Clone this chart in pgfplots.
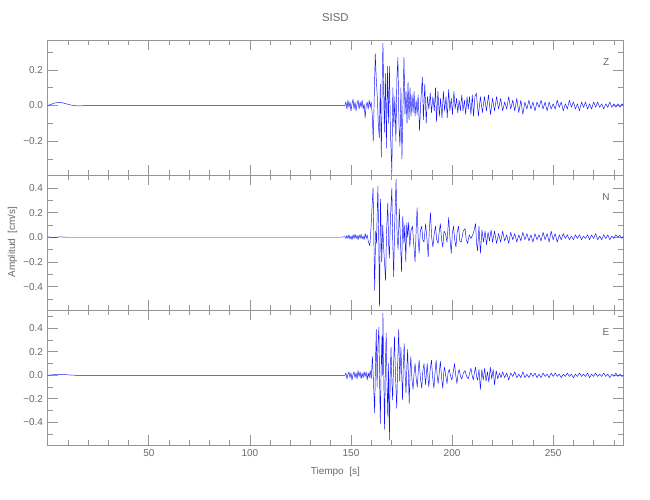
\documentclass[border=0pt]{standalone}
\usepackage{fontspec}
\setmainfont{Liberation Sans}
\usepackage{pgfplots}
\pgfplotsset{compat=1.18}
\definecolor{axgray}{RGB}{150,150,150}
\definecolor{txtgray}{RGB}{105,105,105}
\definecolor{trace}{RGB}{20,20,255}
\pgfplotsset{
  panel/.style={
    scale only axis, width=431.7pt, height=101.25pt, anchor=south west,
    xmin=0, xmax=284.7, clip=true,
    axis line style={draw=axgray, line width=0.5pt},
    every tick/.style={draw=axgray, line width=0.5pt},
    major tick length=7.5pt, minor tick length=3.75pt,
    tick align=inside,
    xtick={50,100,150,200,250},
    minor xtick={10,20,30,40,60,70,80,90,110,120,130,140,160,170,180,190,210,220,230,240,260,270,280},
    tick label style={font=\fontsize{7.5}{9}\selectfont, text=txtgray},
    /pgf/number format/assume math mode=true,
  },
  sig/.style={draw=trace, line width=0.35pt, line join=round, mark=none},
}
\begin{document}
\begin{tikzpicture}
\useasboundingbox (0,0) rectangle (487.5pt,375pt);
% ---------------- Z ----------------
\begin{axis}[panel, at={(35.8pt,243.75pt)}, ymin=-0.39, ymax=0.368,
  ytick={-0.2,0,0.2}, yticklabels={−0.2,0.0,0.2},
  minor ytick={-0.3,-0.1,0.1,0.3}, xticklabels={}]
\addplot[sig] coordinates {
(0,0.0)(1.5,0.006)(3,0.013)(5,0.017)(7,0.016)(9,0.010)(11,0.004)(13,0.0)(15,-0.002)(20,0.0)(145,0.0)
(147,0.0)(147.5,0.02)(148,-0.02)(148.5,0.03)(149,-0.01)(149.5,0.02)(150,-0.03)(150.5,0.01)
(151,0.035)(151.5,-0.02)(152,0.02)(152.5,-0.03)(153,0.01)(153.5,0.03)(154,-0.02)(154.5,0.02)
(155,-0.01)(155.5,0.03)(156,-0.02)(156.5,0.01)(157,-0.07)(157.5,0.0)(158,0.02)(158.5,-0.02)
(159,0.03)(159.5,-0.01)(160,0.02)(160.5,-0.05)(161,-0.20)(161.5,0.05)(162,0.29)(162.5,0.15)
(163,0.05)(163.5,-0.10)(164,-0.18)(164.5,0.12)(165,-0.29)(165.5,0.20)(165.8,0.35)(166.2,0.05)
(166.5,-0.15)(167,0.18)(167.5,-0.24)(168,0.22)(168.5,-0.10)(169,0.22)(169.5,-0.15)(170.2,-0.37)
(170.7,0.10)(171.2,-0.12)(171.7,0.05)(172.2,-0.20)(172.7,0.15)(173.2,0.27)(173.7,-0.10)
(174.2,-0.23)(174.7,0.10)(175.2,-0.30)(175.8,0.05)(176.2,0.27)(176.7,-0.05)(177.2,0.08)
(177.7,-0.10)(178.2,0.13)(178.7,-0.08)(179.2,0.10)(179.7,-0.06)(180.2,0.06)(180.7,-0.04)
(181.2,0.08)(181.7,-0.06)(182.2,0.03)(182.7,-0.05)(183.2,0.06)(183.9,-0.14)(184.5,0.02)
(185.3,0.16)(185.8,-0.08)(186.5,0.12)(187.2,-0.10)(187.8,0.05)(188.5,-0.02)(189.2,0.07)
(189.8,-0.04)(190.5,0.05)(191.2,-0.03)(191.8,0.10)(192.3,-0.09)(193,0.08)(193.7,-0.06)
(194.3,0.04)(195,-0.07)(195.7,0.08)(196.3,-0.03)(197,0.05)(197.6,-0.07)(198.3,0.09)
(198.9,-0.03)(199.6,0.04)(200.2,-0.05)(200.9,0.08)(201.5,-0.02)(202.2,0.04)(202.8,-0.04)
(203.5,0.03)(204.1,-0.03)(204.8,0.06)(205.4,-0.03)(206.1,0.03)(206.7,-0.05)(207.4,0.05)
(208,-0.02)(208.6,0.05)(209.3,-0.05)(210,0.06)(210.6,-0.06)(211.3,0.05)
(212,0.07)(213,-0.06)(214,0.05)(215,-0.04)(216,0.05)(217,-0.03)(218,0.06)(219,-0.05)(220,0.04)
(221,-0.03)(222,0.05)(223,-0.02)(224,0.04)(225,-0.03)(226,0.02)(227,-0.02)(228,0.05)(229,-0.02)
(230,0.03)(231,-0.03)(232,0.04)(233,-0.04)(234,0.03)(235,-0.05)(236,0.02)(237,-0.02)(238,0.03)
(239,-0.02)(240,0.02)(241,-0.03)(242,0.02)(243,-0.01)(244,0.03)(245,-0.02)(246,0.02)(247,-0.03)
(248,0.02)(249,-0.02)(250,0.01)(251,-0.02)(252,0.03)(253,-0.01)(254,0.02)(255,-0.03)(256,0.01)
(257,-0.02)(258,0.03)(259,-0.01)(260,0.02)(261,-0.02)(262,0.01)(263,-0.03)(264,0.02)(265,-0.01)
(266,0.02)(267,-0.02)(268,0.01)(269,-0.02)(270,0.02)(271,-0.01)(272,0.02)(273,-0.01)(274,0.01)
(275,-0.02)(276,0.01)(277,-0.01)(278,0.02)(279,-0.01)(280,0.01)(281,-0.01)(282,0.01)(283,-0.01)
(284,0.01)(284.7,0.0)
};
\node[text=txtgray, font=\fontsize{7.5}{9}\selectfont] at (rel axis cs:0.970,0.837) {Z};
\end{axis}
% ---------------- N ----------------
\begin{axis}[panel, at={(35.8pt,142.5pt)}, ymin=-0.59, ymax=0.505,
  ytick={-0.4,-0.2,0,0.2,0.4}, yticklabels={−0.4,−0.2,0.0,0.2,0.4},
  minor ytick={-0.5,-0.3,-0.1,0.1,0.3,0.5}, xticklabels={}]
\addplot[sig] coordinates {
(0,0.003)(3,-0.002)(6,0.003)(10,0.0)(145,0.0)
(147,0.005)(147.5,-0.01)(148,0.015)(148.5,-0.01)(149,0.02)(149.5,-0.015)(150,0.01)(150.5,-0.02)
(151,0.02)(151.5,-0.01)(152,0.025)(152.5,-0.01)(153,0.015)(153.5,-0.02)(154,0.02)(154.5,-0.01)
(155,0.025)(155.5,-0.015)(156,0.01)(156.5,-0.02)(157,0.03)(157.5,-0.01)(158,0.02)(158.5,-0.03)
(159.3,-0.07)(159.8,0.05)(160.9,0.40)(161.3,0.0)(161.7,-0.43)(162.2,0.05)(162.6,-0.05)
(163.3,0.415)(163.7,0.0)(164.1,-0.56)(164.6,0.31)(165.2,-0.20)(165.7,0.10)(166.2,-0.10)
(167.1,-0.35)(167.6,0.05)(168.2,0.28)(168.6,-0.05)(169.0,-0.17)(169.5,0.15)(170.2,0.40)
(170.6,0.0)(171.1,-0.32)(171.6,0.10)(172.3,0.47)(172.8,0.01)(173.3,-0.10)(173.9,0.23)
(174.4,0.0)(175.0,-0.28)(175.6,0.17)(176.2,-0.05)(176.6,0.10)(177.1,-0.20)(177.6,0.12)
(178.0,0.0)(178.5,0.12)(179.1,-0.08)(179.6,0.05)(180.4,0.09)(181.0,-0.05)(181.7,-0.20)
(182.2,0.05)(182.7,0.24)(183.2,0.0)(183.7,-0.13)(184.3,0.05)(185.0,0.09)(185.5,-0.02)
(186.1,-0.04)(186.9,0.11)(187.5,0.0)(188.2,-0.16)(188.7,0.05)(189.3,0.20)(189.9,0.0)
(190.5,-0.08)(191.1,0.02)(191.8,0.09)(192.4,-0.02)(193.1,-0.05)(193.6,0.04)(194.2,0.11)
(194.8,-0.02)(195.4,-0.08)(196.0,0.05)(196.7,0.03)(197.5,-0.04)(198.3,0.16)(198.9,0.0)
(199.6,-0.13)(200.1,0.03)(200.7,0.09)(201.3,-0.02)(201.9,-0.08)(202.5,0.04)(203.2,0.09)
(203.8,-0.03)(204.5,-0.04)(205.5,0.05)(206.4,0.07)(207.0,-0.02)(207.7,-0.05)(208.5,0.02)
(209.3,-0.01)(210.5,0.03)(211.6,0.11)(212.1,-0.05)(212.6,-0.11)
(213.3,0.09)(214,-0.13)(214.8,0.06)(215.5,-0.04)(216.3,0.05)(217,-0.06)(217.8,0.04)(218.5,-0.03)
(219.3,0.06)(220,-0.04)(221,0.05)(222,-0.05)(223,0.03)(224,-0.04)(225,0.05)(226,-0.03)(227,0.02)
(228,-0.05)(229,0.04)(230,-0.02)(231,0.03)(232,-0.04)(233,0.02)(234,-0.03)(235,0.04)(236,-0.02)
(237,0.03)(238,-0.03)(239,0.02)(240,-0.04)(241,0.03)(242,-0.02)(243,0.02)(244,-0.03)(245,0.04)
(246,-0.02)(247,0.03)(248,-0.04)(249,0.05)(250,-0.02)(251,0.03)(252,-0.04)(253,0.02)(254,-0.02)
(255,0.03)(256,-0.01)(257,0.02)(258,-0.02)(259,0.01)(260,-0.02)(261,0.02)(262,-0.01)(263,0.02)
(264,-0.02)(265,0.01)(266,-0.01)(267,0.02)(268,-0.02)(269,0.02)(270,-0.01)(271,0.03)(272,-0.02)
(273,0.01)(274,-0.02)(275,0.02)(276,-0.01)(277,0.02)(278,-0.02)(279,0.01)(280,-0.01)(281,0.02)
(282,0.0)(283,0.015)(284,-0.01)(284.7,0.01)
};
\node[text=txtgray, font=\fontsize{7.5}{9}\selectfont] at (rel axis cs:0.970,0.837) {N};
\end{axis}
% ---------------- E ----------------
\begin{axis}[panel, at={(35.8pt,41.25pt)}, ymin=-0.593, ymax=0.556,
  ytick={-0.4,-0.2,0,0.2,0.4}, yticklabels={−0.4,−0.2,0.0,0.2,0.4},
  minor ytick={-0.5,-0.3,-0.1,0.1,0.3,0.5}]
\addplot[sig] coordinates {
(0,0.0)(2,0.004)(4,0.007)(7,0.008)(10,0.004)(14,0.0)(145,0.0)
(147,0.0)(147.5,0.02)(148,-0.03)(148.5,0.01)(149,0.03)(149.5,-0.02)(150,0.02)(150.5,-0.04)
(151,0.01)(151.5,0.03)(152,-0.02)(152.5,0.02)(153,-0.03)(153.5,0.04)(154,-0.01)(154.5,0.03)
(155,-0.03)(155.5,0.02)(156,-0.02)(156.5,0.03)(157,-0.01)(157.5,0.03)(158,-0.04)(158.5,0.02)
(159,-0.02)(159.5,0.04)(160,-0.03)(160.6,0.16)(161.1,-0.05)(161.7,-0.32)(162.1,0.10)(162.5,0.39)
(162.9,-0.10)(163.3,0.25)(163.8,0.41)(164.1,0.0)(164.5,-0.41)(164.9,0.05)(165.3,0.33)(165.5,0.0)
(165.8,0.53)(166.2,0.0)(166.6,-0.46)(167.0,0.05)(167.4,0.36)(167.8,-0.05)(168.2,-0.35)(168.6,0.10)
(169.0,-0.55)(169.4,0.0)(169.8,0.24)(170.2,-0.05)(170.6,-0.21)(171.0,0.05)(171.5,0.33)(172.0,0.0)
(172.6,-0.28)(173.1,0.10)(173.6,0.39)(174.1,-0.05)(174.7,0.24)(175.1,0.0)(175.5,-0.21)(175.9,0.10)
(176.3,0.27)(176.8,0.0)(177.2,-0.15)(177.6,0.05)(178.0,0.22)(178.4,0.0)(178.8,-0.24)(179.2,0.03)
(179.6,0.16)(180.1,-0.03)(180.7,-0.12)(181.2,0.02)(181.7,0.10)(182.2,-0.02)(182.8,-0.10)(183.2,0.02)
(183.7,0.13)(184.3,-0.02)(185.0,-0.11)(185.5,0.03)(186.1,0.10)(186.5,0.0)(186.9,-0.08)(187.3,0.02)
(187.7,0.10)(188.1,-0.02)(188.5,-0.10)(189.1,0.04)(189.8,0.13)(190.4,-0.02)(191.0,-0.11)(191.6,0.03)
(192.1,0.13)(192.6,0.0)(193.1,-0.07)(193.7,0.03)(194.2,0.12)(194.8,-0.02)(195.4,-0.11)(195.9,0.03)
(196.3,0.07)(196.9,-0.01)(197.5,-0.07)(198.0,0.02)(198.6,0.05)(199.3,-0.01)(199.9,-0.04)(200.6,0.03)
(201.2,0.10)(201.8,0.0)(202.4,-0.07)(203.0,0.02)(203.5,0.05)(204.2,-0.01)(204.8,-0.03)(205.6,0.02)
(206.4,0.04)(207.2,-0.01)(208.0,-0.03)(208.7,0.02)(209.3,0.06)(209.9,0.0)(210.5,-0.04)(211.0,0.02)
(211.6,0.07)(212.1,-0.01)(212.6,-0.04)
(213.3,0.05)(214,-0.12)(214.7,0.05)(215.4,-0.04)(216.1,0.06)(216.8,-0.05)(217.5,0.03)(218.2,-0.06)
(218.9,0.07)(219.6,-0.03)(220.3,0.05)(221,-0.08)(221.8,0.04)(222.6,-0.03)(223.4,0.02)(224.2,-0.02)
(225,0.03)(226,-0.02)(227,0.02)(228,-0.04)(229,0.02)(230,-0.01)(231,0.03)(232,-0.02)(233,0.01)
(234,-0.02)(235,0.03)(236,-0.02)(237,0.01)(238,-0.02)(239,0.02)(240,-0.01)(241,0.02)(242,-0.02)
(243,0.01)(244,-0.02)(245,0.02)(246,-0.01)(247,0.01)(248,-0.02)(249,0.02)(250,-0.01)(251,0.02)
(252,-0.01)(253,0.01)(254,-0.02)(255,0.01)(256,-0.01)(257,0.02)(258,-0.01)(259,0.01)(260,-0.02)
(261,0.01)(262,-0.01)(263,0.02)(264,-0.01)(265,0.01)(266,-0.01)(267,0.02)(268,-0.02)(269,0.01)
(270,-0.01)(271,0.02)(272,-0.01)(273,0.01)(274,-0.01)(275,0.02)(276,-0.01)(277,0.01)(278,-0.02)
(279,0.01)(280,-0.01)(281,0.02)(282,-0.01)(283,0.01)(284,-0.01)(284.7,0.0)
};
\node[text=txtgray, font=\fontsize{7.5}{9}\selectfont] at (rel axis cs:0.970,0.837) {E};
\end{axis}
% titles and labels
\node[text=txtgray, font=\fontsize{8.5}{10}\selectfont] at (251.5pt,362pt) {SISD};
\node[text=txtgray, font=\fontsize{7.5}{9}\selectfont] at (251.5pt,21pt) {Tiempo\ \ [s]};
\node[text=txtgray, font=\fontsize{7.5}{9}\selectfont, rotate=90] at (9.4pt,193.5pt) {Amplitud\ \ [cm/s]};
\end{tikzpicture}
\end{document}
